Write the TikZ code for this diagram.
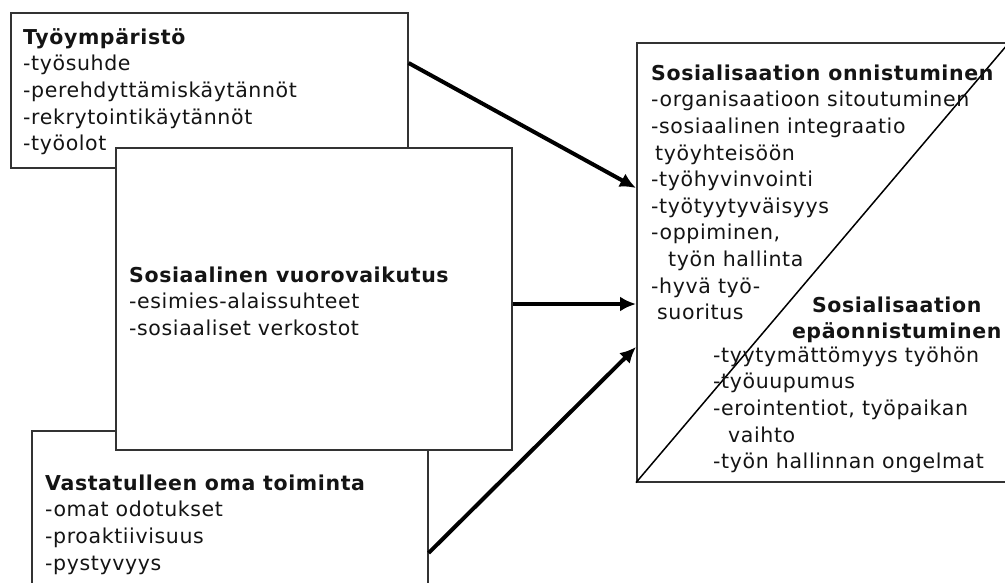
\documentclass[tikz,border=0pt]{standalone}
\usepackage{fontspec}
\setmainfont{DejaVu Sans}[LetterSpace=3]
\usetikzlibrary{arrows.meta,calc}
\tikzset{
  box/.style={draw=black!80, line width=1.6pt, fill=white, inner sep=0pt, anchor=north west},
  txt/.style={inner sep=0pt, anchor=north west, align=left, font=\fontsize{20.5}{26.6}\selectfont, text=black!92},
  arr/.style={line width=4pt, -{Latex[length=16pt,width=15pt]}},
  diag/.style={line width=1.5pt, black}
}
\begin{document}
\begin{tikzpicture}[x=1pt,y=-1pt]
\useasboundingbox (0,0) rectangle (1005,582);
% boxes
\node[box, minimum width=397pt, minimum height=155pt] (b1) at (10,12) {};
\node[box, minimum width=396pt, minimum height=200pt] (b3) at (31,430) {};
\node[box, minimum width=396pt, minimum height=302pt] (b2) at (115,147) {};
\node[box, minimum width=372pt, minimum height=439pt] (r) at (636,42) {};
\draw[diag] (r.south west) -- (r.north east);
% texts
\node[txt] (t1) at (23,25.4) {\strut\textbf{Työympäristö}\\-työsuhde\\-perehdyttämiskäytännöt\\-rekrytointikäytännöt\\-työolot};
\node[txt] (t2) at (129,263.4) {\strut\textbf{Sosiaalinen vuorovaikutus}\\-esimies-alaissuhteet\\-sosiaaliset verkostot};
\node[txt] (t3) at (45,471.4) {\strut\textbf{Vastatulleen oma toiminta}\\-omat odotukset\\-proaktiivisuus\\-pystyvyys};
\node[txt] (t4) at (651,61.4) {\strut\textbf{Sosialisaation onnistuminen}\\-organisaatioon sitoutuminen\\-sosiaalinen integraatio\\\hspace*{4pt}työyhteisöön\\-työhyvinvointi\\-työtyytyväisyys\\-oppiminen,\\\hspace*{17pt}työn hallinta\\-hyvä työ-\\\hspace*{6pt}suoritus};
\node[txt, anchor=north, align=center] (t5) at (897,293.4) {\strut\textbf{Sosialisaation}\\\textbf{epäonnistuminen}};
\node[txt] (t6) at (713,343.4) {\strut-tyytymättömyys työhön\\-työuupumus\\-erointentiot, työpaikan\\\hspace*{15pt}vaihto\\-työn hallinnan ongelmat};
% arrows
\draw[arr] ([yshift=-51pt]b1.north east) -- ([yshift=-146pt]r.north west);
\draw[arr] ([yshift=-157pt]b2.north east) -- ([yshift=-262pt]r.north west);
\draw[arr] ([yshift=-123pt]b3.north east) -- ([yshift=-305pt]r.north west);
\end{tikzpicture}
\end{document}
